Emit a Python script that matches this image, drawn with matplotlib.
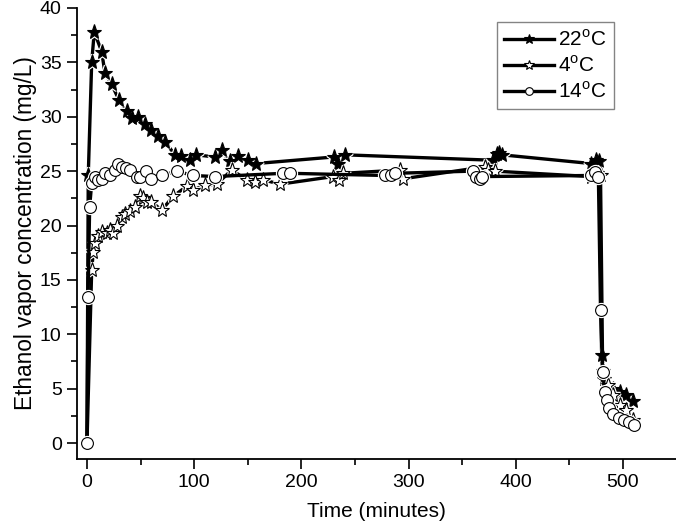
import matplotlib
matplotlib.use("Agg")
import matplotlib.pyplot as plt
from matplotlib.ticker import MultipleLocator

plt.rcParams['font.family'] = ['Liberation Sans', 'DejaVu Sans']
plt.rcParams['mathtext.fontset'] = 'custom'
plt.rcParams['mathtext.rm'] = 'Liberation Sans'

# 22 °C series
t22 = [0, 1.2, 4.4, 6.8, 13.7, 16.8, 23, 30, 37, 41.7, 48, 54, 60, 66.5, 72.8, 82, 88, 96,
       102, 119, 125.6, 133, 140.5, 150, 158, 230, 234, 240.7, 379, 382, 384, 387,
       470, 475, 478, 480, 482, 486, 491, 497, 503, 509]
v22 = [0, 24.6, 35.0, 37.8, 36.0, 34.0, 33.0, 31.5, 30.5, 29.9, 30.0, 29.3, 28.8, 28.2, 27.7,
       26.5, 26.4, 26.0, 26.5, 26.3, 26.9, 25.9, 26.4, 26.0, 25.7, 26.3, 25.7, 26.5, 26.0,
       26.6, 26.7, 26.5, 25.7, 26.0, 25.9, 8.1, 5.9, 5.3, 5.0, 4.7, 4.4, 3.9]

# 4 °C series
t4 = [0, 4.4, 5.9, 7.5, 10.5, 13.7, 18.4, 21.4, 24.6, 27.6, 32.3, 35.4, 40, 44.8, 49.4, 52.5,
      55.6, 60, 69.7, 80.5, 93, 99, 110, 121, 135, 149, 157, 164.5, 180, 229.6, 235, 239,
      292, 295, 371, 374, 380.6, 470, 476, 479, 481, 486, 491, 497, 503, 509]
v4 = [0, 15.9, 17.6, 18.4, 19.0, 19.4, 19.3, 19.6, 19.3, 20.0, 20.8, 21.1, 21.3, 21.7, 22.7,
      22.5, 22.2, 22.2, 21.4, 22.7, 23.6, 23.3, 23.7, 23.8, 25.1, 24.2, 24.0, 24.2, 23.8,
      24.5, 24.2, 24.8, 25.1, 24.3, 25.4, 25.1, 25.0, 24.5, 24.8, 24.6, 6.6, 5.3, 4.4, 3.5,
      3.0, 2.1]

# 14 °C series
t14 = [0, 1, 2.5, 4.4, 7.5, 10.5, 13.7, 16.8, 21.4, 26, 29.2, 32.3, 36, 40, 46.3, 49.4, 55,
       60, 70, 83.6, 99, 119.4, 183, 189, 278, 284, 287, 360, 363, 366.6, 368, 470, 474, 477,
       479, 481, 483, 485, 487, 491, 496, 501, 506, 510]
v14 = [0, 13.4, 21.7, 23.9, 24.5, 24.2, 24.3, 24.8, 24.6, 25.1, 25.65, 25.4, 25.3, 25.1, 24.5,
       24.5, 25.0, 24.3, 24.6, 25.0, 24.6, 24.5, 24.8, 24.8, 24.6, 24.6, 24.8, 25.0, 24.5,
       24.3, 24.5, 24.6, 24.9, 24.5, 12.2, 6.5, 4.7, 4.0, 3.2, 2.7, 2.3, 2.1, 1.9, 1.7]

labels = ['22$^{\\mathregular{o}}$C', '4$^{\\mathregular{o}}$C', '14$^{\\mathregular{o}}$C']
xticks = [0, 100, 200, 300, 400, 500]
yticks = [0, 5, 10, 15, 20, 25, 30, 35, 40]

fig = plt.figure(figsize=(6.76, 5.26), dpi=100)
ax = fig.add_axes([77 / 676, 67 / 526, 599 / 676, 451 / 526])

series = [
    (t22, v22, '*', 'black', 11, slice(1, None)),
    (t4, v4, '*', 'white', 11, slice(1, None)),
    (t14, v14, 'o', 'white', 8.5, slice(None)),
]
handles = []
for i, ((t, v, m, fc, ms, me), lab) in enumerate(zip(series, labels)):
    z = 2 + i * 0.3
    ax.plot(t, v, color='black', lw=2.4, zorder=z, solid_capstyle='butt')
    ax.plot(t, v, ls='none', marker=m, ms=ms, mfc='white', mec='white', mew=2.5,
            markevery=me, zorder=z + 0.1)
    ax.plot(t, v, ls='none', marker=m, ms=ms, mfc=fc, mec='black', mew=0.8,
            markevery=me, zorder=z + 0.2)
    h, = ax.plot([], [], color='black', lw=2.4, marker=m, ms=ms * 0.65, mfc=fc,
                 mec='black', mew=0.8, label=lab)
    handles.append(h)

ax.set_xlim(-9.3, 549.4)
ax.set_ylim(-1.47, 40)
ax.set_xticks(xticks)
ax.set_yticks(yticks)
ax.xaxis.set_minor_locator(MultipleLocator(50))
ax.yaxis.set_minor_locator(MultipleLocator(2.5))
ax.tick_params(which='major', direction='out', length=7, width=1.2, labelsize=14, pad=4)
ax.tick_params(which='minor', direction='out', length=4, width=1.2)
for s in ['top', 'right']:
    ax.spines[s].set_visible(False)
for s in ['left', 'bottom']:
    ax.spines[s].set_linewidth(1.3)

ax.set_xlabel('Time (minutes)', fontsize=15, labelpad=8)
ax.set_ylabel('Ethanol vapor concentration (mg/L)', fontsize=16.3, labelpad=2)

leg = ax.legend(handles=handles, loc='upper left', bbox_to_anchor=(497 / 676, 1 - 22 / 526),
                bbox_transform=fig.transFigure, borderaxespad=0, fontsize=15,
                handlelength=2.4, handletextpad=0.2, labelspacing=0.25,
                frameon=True, fancybox=False, borderpad=0.35)
leg.get_frame().set_edgecolor('#666666')
leg.get_frame().set_linewidth(1.0)

fig.savefig('out.png', dpi=100)
